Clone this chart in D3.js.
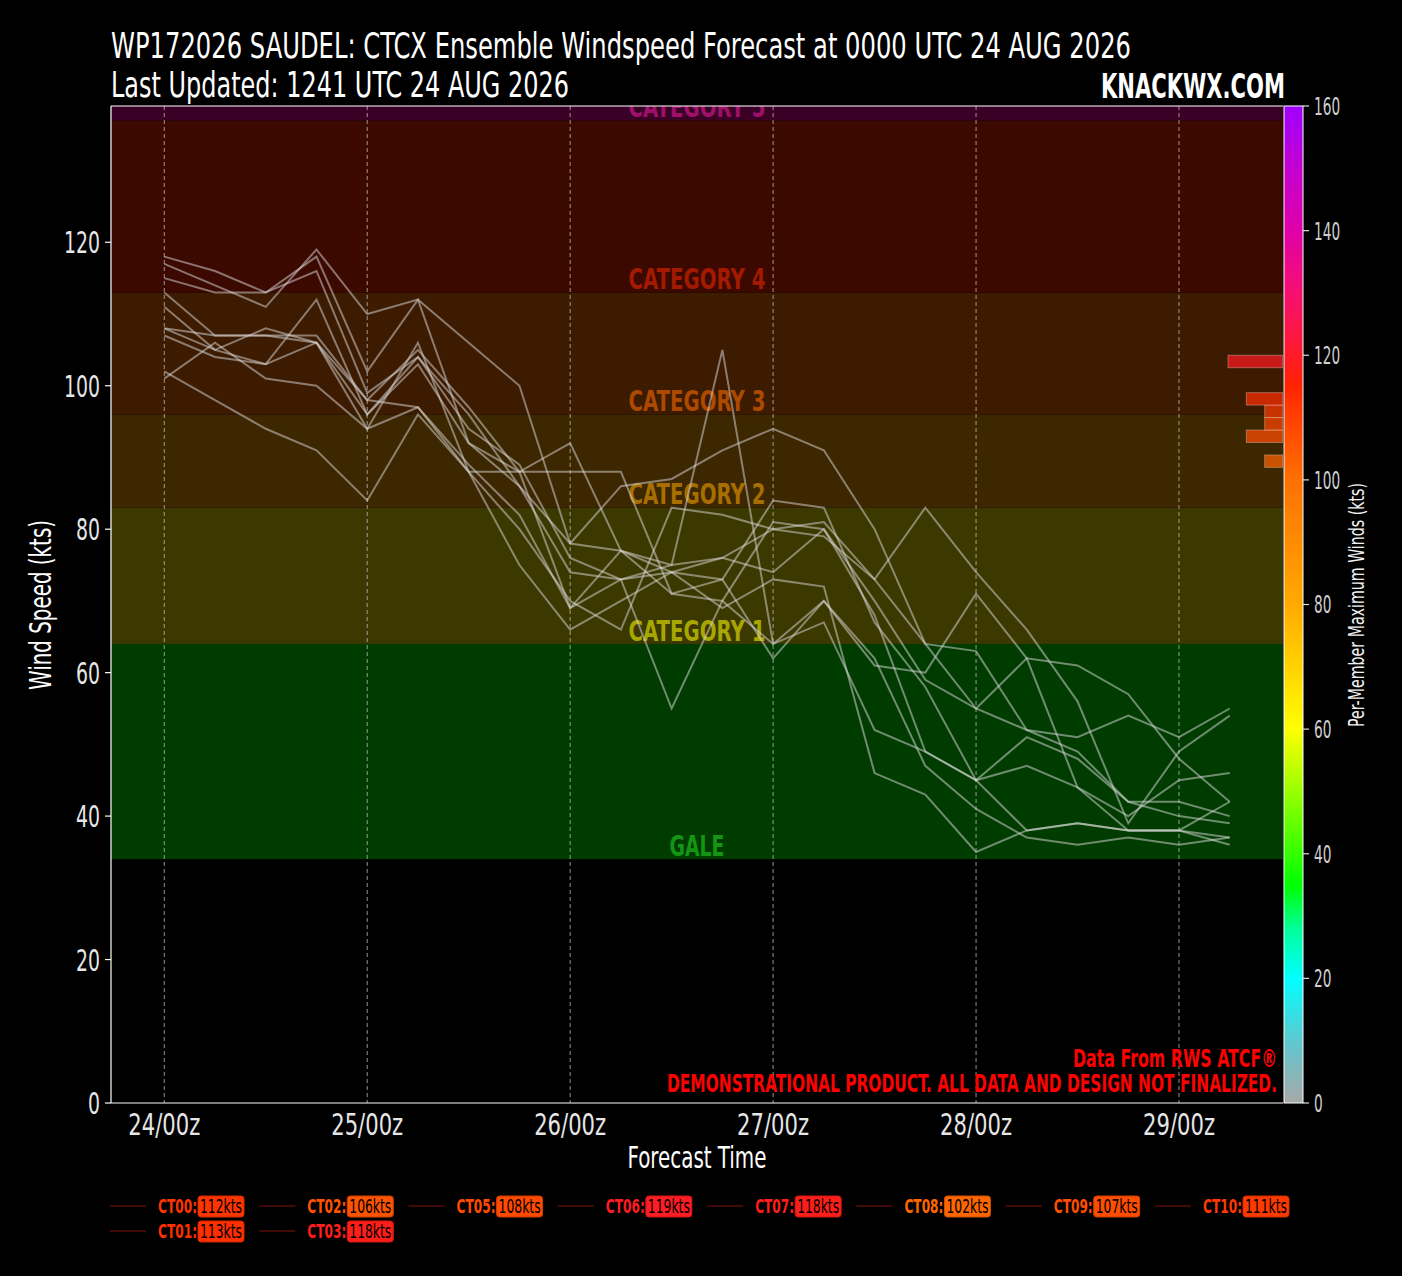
<!DOCTYPE html>
<html>
<head>
<meta charset="utf-8">
<script src="https://cdn.jsdelivr.net/npm/d3@7"></script>
<style>
html, body { margin: 0; padding: 0; background: #000; }
svg { display: block; }
text { font-family: "Liberation Sans Narrow", "DejaVu Sans Condensed", "Arial Narrow", sans-serif; }
</style>
</head>
<body>
<div id="chart"></div>
<script>

// forecast hours from 0000 UTC 24 AUG
var hours = [0, 6, 12, 18, 24, 30, 36, 42, 48, 54, 60, 66, 72, 78, 84, 90, 96, 102, 108, 114, 120, 126];

// member wind speeds (kts)
var ct00 = [108, 105, 103, 112,  96, 103,  92,  86,  78,  86,  87,  91,  94,  91,  80,  64,  63,  52,  51,  54,  51,  55];
var ct01 = [113, 107, 107, 107,  98, 105,  97,  88,  88,  88,  71,  70,  81,  80,  68,  49,  45,  38,  39,  38,  38,  36];
var ct02 = [101, 106, 101, 100,  94,  97,  89,  82,  69,  73,  55,  70,  64,  70,  61,  60,  71,  62,  44,  38,  38,  42];
var ct03 = [118, 116, 113, 116,  99, 104,  96,  86,  74,  73,  74,  76,  74,  80,  70,  59,  55,  62,  61,  57,  48,  42];
var ct05 = [108, 107, 107, 106,  98,  97,  88,  88,  92,  77,  74,  73,  62,  70,  62,  47,  41,  37,  36,  37,  36,  37];
var ct06 = [117, 114, 111, 119, 110, 112, 106, 100,  78,  77,  75,  76,  80,  81,  73,  64,  55,  52,  49,  42,  42,  40];
var ct07 = [115, 113, 113, 118, 102, 112,  92,  88,  69,  77,  71,  73,  84,  83,  67,  58,  45,  47,  44,  40,  45,  46];
var ct08 = [102,  98,  94,  91,  84,  96,  88,  75,  66,  70,  74,  69,  73,  72,  46,  43,  35,  38,  39,  38,  38,  37];
var ct09 = [107, 104, 103, 106,  96, 104,  94,  89,  76,  73,  75, 105,  64,  67,  52,  49,  45,  51,  48,  42,  40,  39];
var ct10 = [111, 105, 108, 106,  94, 106,  88,  80,  70,  66,  83,  82,  80,  79,  73,  83,  74,  66,  56,  39,  49,  54];

var memberNames = ["CT00", "CT01", "CT02", "CT03", "CT05", "CT06", "CT07", "CT08", "CT09", "CT10"];
var memberWinds = [ct00, ct01, ct02, ct03, ct05, ct06, ct07, ct08, ct09, ct10];

var dayTicks = [0, 24, 48, 72, 96, 120];
var dayLabels = ["24/00z", "25/00z", "26/00z", "27/00z", "28/00z", "29/00z"];
var windTicks = [0, 20, 40, 60, 80, 100, 120];
var cbarTicks = [0, 20, 40, 60, 80, 100, 120, 140, 160];

var catNames = ["GALE", "CATEGORY 1", "CATEGORY 2", "CATEGORY 3", "CATEGORY 4", "CATEGORY 5"];
var catLows  = [34, 64, 83, 96, 113, 137];
var catHighs = [64, 83, 96, 113, 137, 200];

var cmapStops = [0, 10, 20, 28, 35, 45, 60, 70, 80, 90, 100, 110, 115, 120, 130, 140, 150, 160];

// styles
var bandFill = ["#003c00", "#3c3900", "#3d2700", "#3c1b00", "#3c0900", "#3a0026"];
var catText  = ["#149614", "#a8a600", "#a86e00", "#ad4a00", "#a41a00", "#a0106a"];
var cmapColors = ["#a8a8a8", "#5ec8d0", "#00ffff", "#00ff99", "#00ff00", "#66ff00", "#ffff00",
                  "#ffd200", "#ffaa00", "#ff8c00", "#ff7000", "#ff4000", "#ff2400", "#ff1a2a",
                  "#f51070", "#e000a8", "#c400d0", "#a000ff"];

var W = 1402, H = 1276;
var padL = 111, padR = 1283, padT = 106, padB = 1103;

var svg = d3.select("#chart").append("svg")
    .attr("width", W)
    .attr("height", H);

svg.append("rect").attr("width", W).attr("height", H).attr("fill", "#000");

var x = d3.scaleLinear().domain([-6.3, 132.3]).range([padL, padR]);
var y = d3.scaleLinear().domain([0, 139]).range([padB, padT]);
var yc = d3.scaleLinear().domain([0, 160]).range([padB, padT]);
var cmap = d3.scaleLinear().domain(cmapStops).range(cmapColors).interpolate(d3.interpolateRgb).clamp(true);

var maxWinds = memberWinds.map(function(d){ return d3.max(d); });

svg.append("clipPath").attr("id", "plotclip")
  .append("rect")
    .attr("x", padL).attr("y", padT)
    .attr("width", padR - padL).attr("height", padB - padT);

var plot = svg.append("g").attr("clip-path", "url(#plotclip)");

// category bands
plot.selectAll("rect.band")
    .data(catNames)
    .enter().append("rect")
    .attr("class", "band")
    .attr("x", padL)
    .attr("width", padR - padL)
    .attr("y", function(d, i){ return y(catHighs[i]); })
    .attr("height", function(d, i){ return y(catLows[i]) - y(catHighs[i]); })
    .attr("fill", function(d, i){ return bandFill[i]; });

// category labels
plot.selectAll("text.cat")
    .data(catNames)
    .enter().append("text")
    .attr("class", "cat")
    .attr("x", (padL + padR) / 2)
    .attr("y", function(d, i){ return y(catLows[i] + 2); })
    .attr("dy", "0.38em")
    .attr("text-anchor", "middle")
    .attr("font-size", 29)
    .attr("font-weight", "bold")
    .attr("fill", function(d, i){ return catText[i]; })
    .attr("textLength", function(d){ return d.length * 13.7; })
    .attr("lengthAdjust", "spacingAndGlyphs")
    .text(function(d){ return d; });

// vertical grid
plot.selectAll("line.grid")
    .data(dayTicks)
    .enter().append("line")
    .attr("class", "grid")
    .attr("x1", function(d){ return x(d); })
    .attr("x2", function(d){ return x(d); })
    .attr("y1", padT).attr("y2", padB)
    .attr("stroke", "#b8b8b8")
    .attr("stroke-width", 1)
    .attr("stroke-dasharray", "4,3")
    .attr("opacity", 0.8);

// histogram of member maxima (colorbar scale)
var bins = d3.bin().domain([0, 160]).thresholds(d3.range(0, 161, 2))(maxWinds)
    .filter(function(b){ return b.length > 0; });
var hx = d3.scaleLinear().domain([0, 3]).range([0, 55]);

plot.selectAll("rect.hist")
    .data(bins)
    .enter().append("rect")
    .attr("class", "hist")
    .attr("x", function(d){ return padR - hx(d.length); })
    .attr("width", function(d){ return hx(d.length); })
    .attr("y", function(d){ return yc(d.x1); })
    .attr("height", function(d){ return yc(d.x0) - yc(d.x1); })
    .attr("fill", function(d){ return cmap((d.x0 + d.x1) / 2); })
    .attr("fill-opacity", 0.72)
    .attr("stroke", "#ffffff")
    .attr("stroke-opacity", 0.3)
    .attr("stroke-width", 1);

// member lines
var line = d3.line()
    .x(function(d, i){ return x(hours[i]); })
    .y(function(d){ return y(d); });

plot.selectAll("path.member")
    .data(memberWinds)
    .enter().append("path")
    .attr("class", "member")
    .attr("d", line)
    .attr("fill", "none")
    .attr("stroke", "#dcdcdc")
    .attr("stroke-opacity", 0.5)
    .attr("stroke-width", 2)
    .attr("stroke-linejoin", "miter");

// watermark text
svg.append("text")
    .attr("x", 1277).attr("y", 1067)
    .attr("text-anchor", "end")
    .attr("font-size", 25).attr("font-weight", "bold")
    .attr("fill", "#ff0000")
    .attr("textLength", 204).attr("lengthAdjust", "spacingAndGlyphs")
    .text("Data From RWS ATCF®");
svg.append("text")
    .attr("x", 1277).attr("y", 1092)
    .attr("text-anchor", "end")
    .attr("font-size", 25).attr("font-weight", "bold")
    .attr("fill", "#ff0000")
    .attr("textLength", 610).attr("lengthAdjust", "spacingAndGlyphs")
    .text("DEMONSTRATIONAL PRODUCT. ALL DATA AND DESIGN NOT FINALIZED.");

// spines
svg.append("line").attr("x1", padL).attr("x2", padL).attr("y1", padT).attr("y2", padB)
    .attr("stroke", "#fff").attr("stroke-width", 1.2);
svg.append("line").attr("x1", padL).attr("x2", padR).attr("y1", padB).attr("y2", padB)
    .attr("stroke", "#fff").attr("stroke-width", 1.2);
svg.append("line").attr("x1", padL).attr("x2", padR).attr("y1", padT).attr("y2", padT)
    .attr("stroke", "#fff").attr("stroke-width", 1.2);

// y axis
var yAxis = svg.selectAll("g.ytick")
    .data(windTicks)
    .enter().append("g")
    .attr("class", "ytick")
    .attr("transform", function(d){ return "translate(0," + y(d) + ")"; });
yAxis.append("line").attr("x1", padL - 6).attr("x2", padL)
    .attr("stroke", "#fff").attr("stroke-width", 1.2);
yAxis.append("text")
    .attr("x", padL - 11)
    .attr("dy", "0.37em")
    .attr("text-anchor", "end")
    .attr("font-size", 30)
    .attr("fill", "#e6e6e6")
    .attr("textLength", function(d){ return String(d).length * 12; })
    .attr("lengthAdjust", "spacingAndGlyphs")
    .text(function(d){ return d; });

// x axis
svg.selectAll("text.xtick")
    .data(dayTicks)
    .enter().append("text")
    .attr("class", "xtick")
    .attr("x", function(d){ return x(d); })
    .attr("y", 1135)
    .attr("text-anchor", "middle")
    .attr("font-size", 30)
    .attr("fill", "#e6e6e6")
    .attr("textLength", 72).attr("lengthAdjust", "spacingAndGlyphs")
    .text(function(d, i){ return dayLabels[i]; });

svg.append("text")
    .attr("x", (padL + padR) / 2).attr("y", 1168)
    .attr("text-anchor", "middle")
    .attr("font-size", 30)
    .attr("fill", "#fff")
    .attr("textLength", 139).attr("lengthAdjust", "spacingAndGlyphs")
    .text("Forecast Time");

svg.append("text")
    .attr("transform", "translate(51,605) rotate(-90)")
    .attr("text-anchor", "middle")
    .attr("font-size", 30)
    .attr("fill", "#fff")
    .attr("textLength", 170).attr("lengthAdjust", "spacingAndGlyphs")
    .text("Wind Speed (kts)");

// colorbar
var grad = svg.append("defs").append("linearGradient")
    .attr("id", "cbar")
    .attr("x1", 0).attr("y1", 1).attr("x2", 0).attr("y2", 0);
grad.selectAll("stop")
    .data(cmapStops)
    .enter().append("stop")
    .attr("offset", function(d){ return d / 160; })
    .attr("stop-color", function(d, i){ return cmapColors[i]; });

svg.append("rect")
    .attr("x", 1284).attr("y", yc(160))
    .attr("width", 19).attr("height", yc(0) - yc(160))
    .attr("fill", "url(#cbar)")
    .attr("stroke", "#fff").attr("stroke-width", 1);

var cTicks = svg.selectAll("g.ctick")
    .data(cbarTicks)
    .enter().append("g")
    .attr("class", "ctick")
    .attr("transform", function(d){ return "translate(0," + yc(d) + ")"; });
cTicks.append("line").attr("x1", 1303).attr("x2", 1309)
    .attr("stroke", "#ddd").attr("stroke-width", 1.2);
cTicks.append("text")
    .attr("x", 1314)
    .attr("dy", "0.37em")
    .attr("font-size", 24)
    .attr("fill", "#cfcfcf")
    .attr("textLength", function(d){ return String(d).length * 8.7; })
    .attr("lengthAdjust", "spacingAndGlyphs")
    .text(function(d){ return d; });

svg.append("text")
    .attr("transform", "translate(1364,605) rotate(-90)")
    .attr("text-anchor", "middle")
    .attr("font-size", 21)
    .attr("fill", "#f0f0f0")
    .attr("textLength", 244).attr("lengthAdjust", "spacingAndGlyphs")
    .text("Per-Member Maximum Winds (kts)");

// titles
svg.append("text")
    .attr("x", 111).attr("y", 58)
    .attr("font-size", 35)
    .attr("fill", "#fff")
    .attr("textLength", 1020).attr("lengthAdjust", "spacingAndGlyphs")
    .text("WP172026 SAUDEL: CTCX Ensemble Windspeed Forecast at 0000 UTC 24 AUG 2026");
svg.append("text")
    .attr("x", 111).attr("y", 97)
    .attr("font-size", 35)
    .attr("fill", "#fff")
    .attr("textLength", 458).attr("lengthAdjust", "spacingAndGlyphs")
    .text("Last Updated: 1241 UTC 24 AUG 2026");
svg.append("text")
    .attr("x", 1285).attr("y", 98)
    .attr("text-anchor", "end")
    .attr("font-size", 34).attr("font-weight", "bold")
    .attr("fill", "#fff")
    .attr("textLength", 184).attr("lengthAdjust", "spacingAndGlyphs")
    .text("KNACKWX.COM");

// legend (column-major, 8 columns)
var rowsPerCol = [2, 2, 1, 1, 1, 1, 1, 1];
var slots = [];
rowsPerCol.forEach(function(n, c){
    for (var r = 0; r < n; r++) slots.push({col: c, row: r});
});
var colX = d3.scaleLinear().domain([0, 7]).range([110, 1155]);
var rowY = d3.scaleLinear().domain([0, 1]).range([1206, 1231]);

var leg = svg.selectAll("g.leg")
    .data(memberNames)
    .enter().append("g")
    .attr("class", "leg")
    .attr("transform", function(d, i){
        return "translate(" + colX(slots[i].col) + "," + rowY(slots[i].row) + ")";
    });
leg.append("line").attr("x1", 0).attr("x2", 36)
    .attr("stroke", "#3e0c04").attr("stroke-width", 2);
leg.append("text")
    .attr("x", 48).attr("dy", "0.37em")
    .attr("font-size", 19).attr("font-weight", "bold")
    .attr("fill", function(d, i){ return cmap(maxWinds[i]); })
    .attr("textLength", 39).attr("lengthAdjust", "spacingAndGlyphs")
    .text(function(d){ return d + ":"; });
leg.append("rect")
    .attr("x", 88).attr("y", -10)
    .attr("width", 46).attr("height", 21)
    .attr("rx", 3)
    .attr("fill", function(d, i){ return cmap(maxWinds[i]); })
    .attr("stroke", function(d, i){ return d3.color(cmap(maxWinds[i])).darker(0.6); })
    .attr("stroke-width", 1);
leg.append("text")
    .attr("x", 90).attr("dy", "0.37em")
    .attr("font-size", 19)
    .attr("fill", "#000")
    .attr("textLength", 42).attr("lengthAdjust", "spacingAndGlyphs")
    .text(function(d, i){ return maxWinds[i] + "kts"; });

</script>
</body>
</html>
